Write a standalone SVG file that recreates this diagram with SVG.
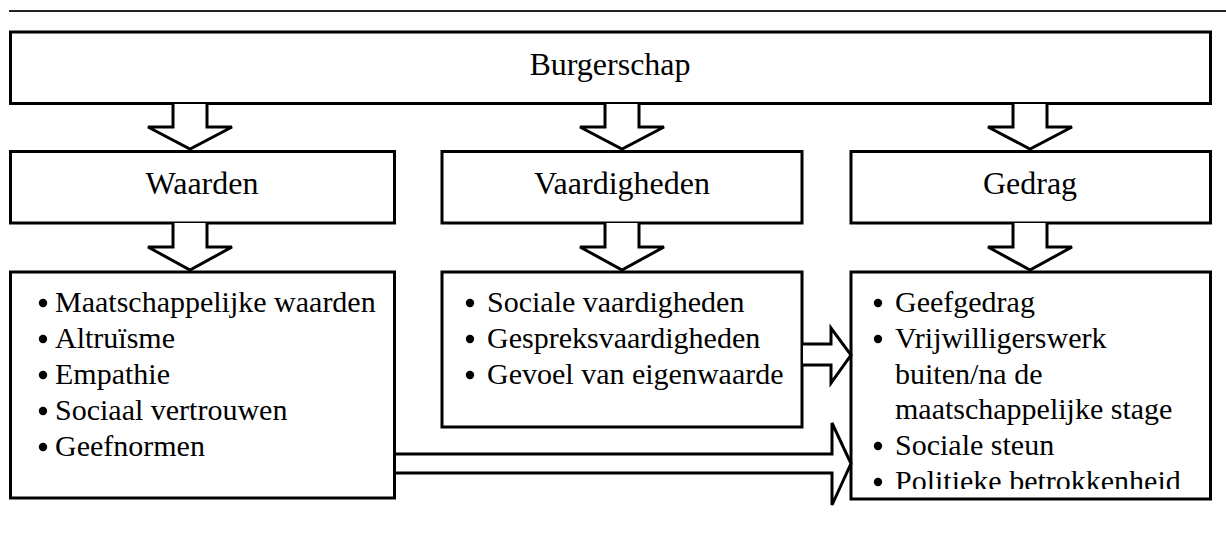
<svg xmlns="http://www.w3.org/2000/svg" width="1226" height="538" viewBox="0 0 1226 538">
<style>
.box{fill:#fff;stroke:#000;stroke-width:3}
.arr{fill:#fff;stroke:#000;stroke-width:3;stroke-linejoin:miter}
.t{font-family:"Liberation Serif","Times New Roman",serif;font-size:30px;fill:#000}
.h{font-size:32px}
.c{text-anchor:middle}
.b{fill:#000}
</style>
<defs>
<clipPath id="clipR"><rect x="851" y="272" width="360" height="217"/></clipPath>
</defs>
<line x1="9" y1="11" x2="1226" y2="11" stroke="#222" stroke-width="1.8"/>
<g id="burgerschap">
<rect class="box" x="10.5" y="32" width="1200" height="71.5"/>
<text class="t h c" x="610" y="75">Burgerschap</text>
</g>
<g id="waarden">
<rect class="box" x="10.5" y="151.5" width="384" height="71.5"/>
<text class="t h c" x="202" y="194">Waarden</text>
</g>
<g id="vaardigheden">
<rect class="box" x="442" y="151.5" width="360" height="71.5"/>
<text class="t h c" x="622" y="194">Vaardigheden</text>
</g>
<g id="gedrag">
<rect class="box" x="851" y="151.5" width="359.5" height="71.5"/>
<text class="t h c" x="1030" y="194">Gedrag</text>
</g>
<g id="waarden-lijst">
<rect class="box" x="10.5" y="272" width="384" height="226"/>
<circle class="b" cx="43" cy="303" r="4.2"/><text class="t" x="55" y="312">Maatschappelijke waarden</text>
<circle class="b" cx="43" cy="339" r="4.2"/><text class="t" x="55" y="348">Altruïsme</text>
<circle class="b" cx="43" cy="375" r="4.2"/><text class="t" x="55" y="384">Empathie</text>
<circle class="b" cx="43" cy="411" r="4.2"/><text class="t" x="55" y="420">Sociaal vertrouwen</text>
<circle class="b" cx="43" cy="447" r="4.2"/><text class="t" x="55" y="456">Geefnormen</text>
</g>
<g id="vaardigheden-lijst">
<rect class="box" x="442" y="272" width="360" height="155"/>
<circle class="b" cx="470" cy="303" r="4.2"/><text class="t" x="487" y="312">Sociale vaardigheden</text>
<circle class="b" cx="470" cy="339" r="4.2"/><text class="t" x="487" y="348">Gespreksvaardigheden</text>
<circle class="b" cx="470" cy="375" r="4.2"/><text class="t" x="487" y="384">Gevoel van eigenwaarde</text>
</g>
<g id="gedrag-lijst">
<rect class="box" x="851" y="272" width="359.5" height="227"/>
<g clip-path="url(#clipR)">
<circle class="b" cx="878" cy="303" r="4.2"/><text class="t" x="895" y="312">Geefgedrag</text>
<circle class="b" cx="878" cy="339" r="4.2"/><text class="t" x="895" y="348">Vrijwilligerswerk</text>
<text class="t" x="895" y="384">buiten/na de</text>
<text class="t" x="895" y="419">maatschappelijke stage</text>
<circle class="b" cx="878" cy="446" r="4.2"/><text class="t" x="895" y="455">Sociale steun</text>
<circle class="b" cx="878" cy="482" r="4.2"/><text class="t" x="895" y="491">Politieke betrokkenheid</text>
</g>
</g>
<g id="connectors">
<path class="arr" d="M173,104 L173,127 L148,127 L190,149 L232,127 L207,127 L207,104"/>
<path class="arr" d="M605,104 L605,127 L580,127 L622,149 L664,127 L639,127 L639,104"/>
<path class="arr" d="M1013,104 L1013,127 L988,127 L1030,149 L1072,127 L1047,127 L1047,104"/>
<path class="arr" d="M173,223 L173,247 L148,247 L190,270 L232,247 L207,247 L207,223"/>
<path class="arr" d="M605,223 L605,247 L580,247 L622,270 L664,247 L639,247 L639,223"/>
<path class="arr" d="M1013,223 L1013,247 L988,247 L1030,270 L1072,247 L1047,247 L1047,223"/>
<path class="arr" d="M803,344 L831,344 L831,328 L851,355 L831,383 L831,365 L803,365"/>
<path class="arr" d="M396,454 L832,454 L832,423 L851,463.5 L832,505 L832,473 L396,473"/>
</g>
</svg>
